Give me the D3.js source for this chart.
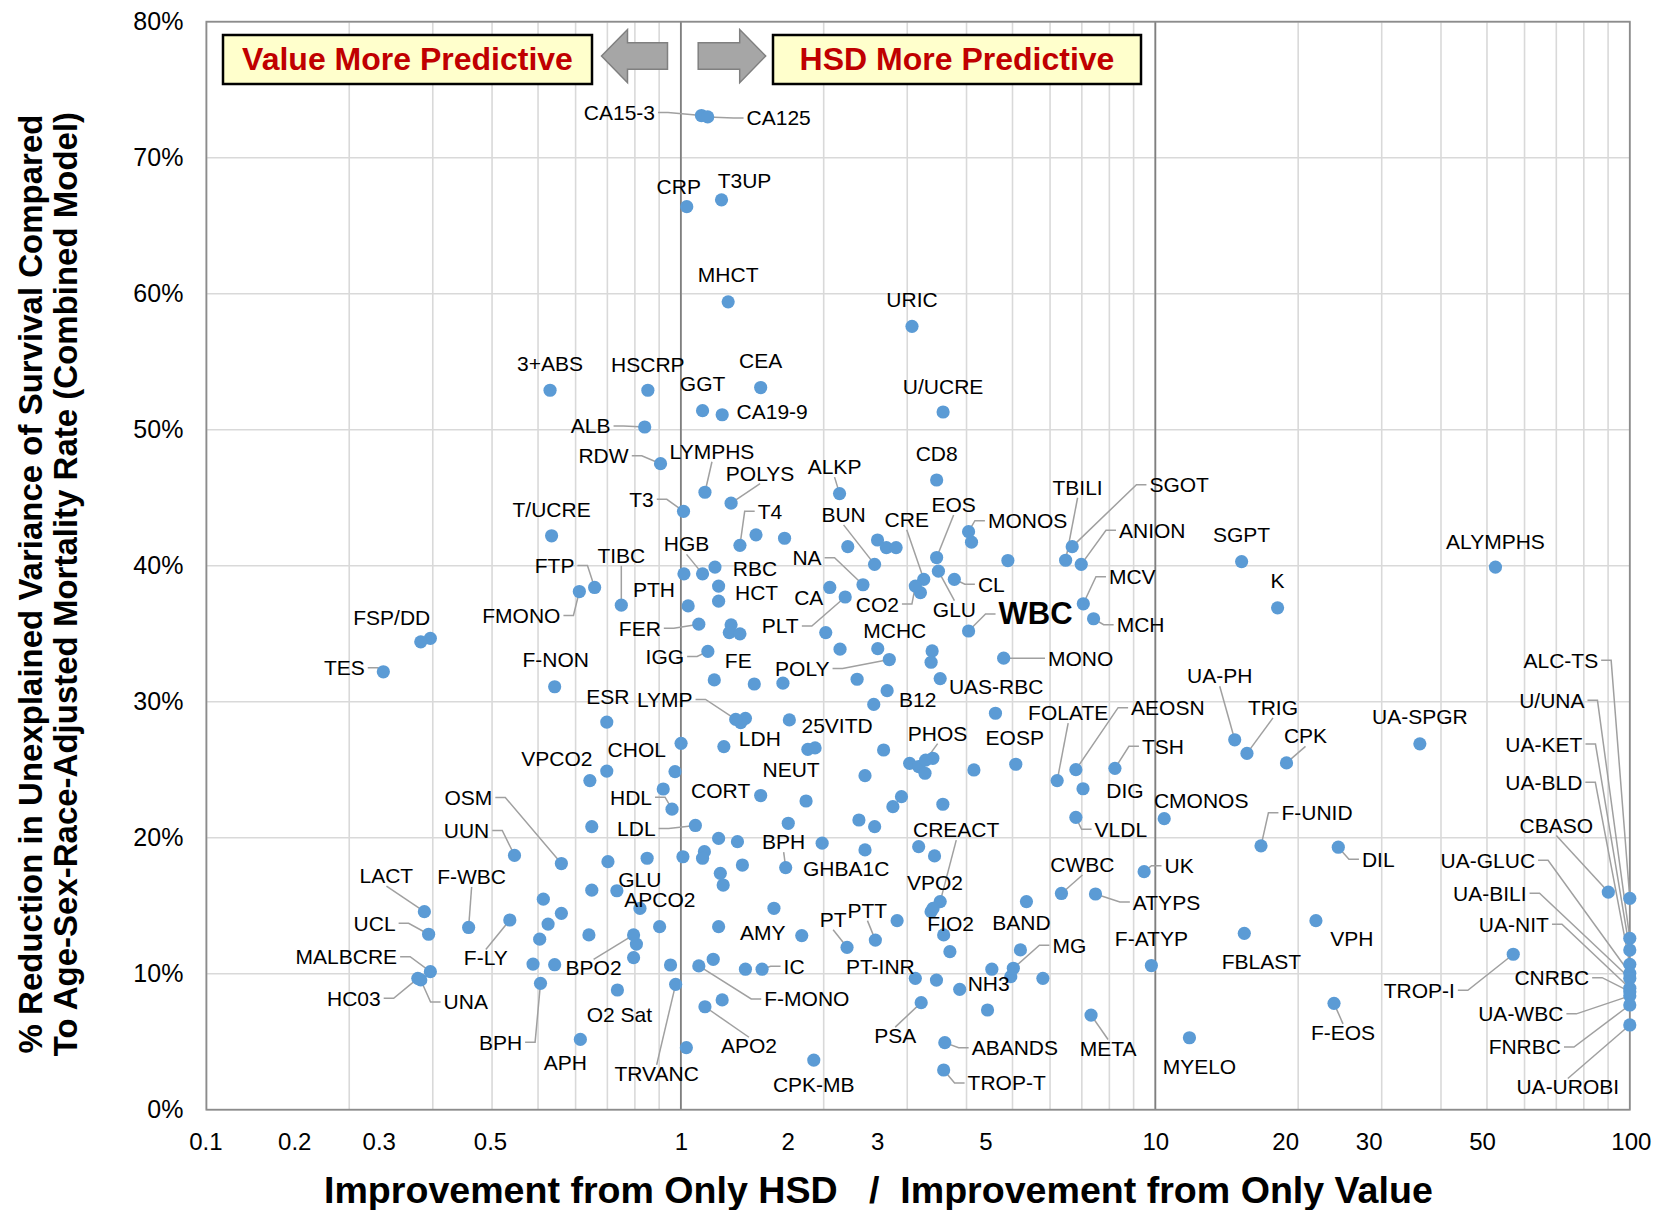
<!DOCTYPE html>
<html><head><meta charset="utf-8">
<script src="https://cdn.jsdelivr.net/npm/d3@7"></script>
<style>
body{margin:0;background:#fff;}
svg text{font-family:"Liberation Sans",Arial,sans-serif;}
</style></head><body>
<svg id="c" width="1654" height="1210"></svg>
<script>
// ---------- data ----------
const xTicks=[0.1,0.2,0.3,0.5,1,2,3,5,10,20,30,50,100];
const yTicks=[0,10,20,30,40,50,60,70,80];

// labelled tests: name, ratio (HSD/Value improvement), % reduction
const labNames=["CA15-3","CA125","CRP","T3UP","MHCT","URIC","3+ABS","HSCRP","CEA","GGT","CA19-9","U/UCRE","ALB","RDW","LYMPHS","POLYS","ALKP","CD8","T3","T/UCRE","T4","BUN","EOS","MONOS","CRE","CO2","GLU","CL","WBC","TBILI","SGOT","ANION","MCV","MCH","SGPT","K","ALYMPHS",
"TES","FSP/DD","FTP","TIBC","FMONO","F-NON","PTH","HGB","RBC","HCT","FER","IGG","FE","CA","NA","PLT","MCHC","POLY","B12","UAS-RBC","MONO","ESR","LYMP","25VITD","LDH","CHOL","VPCO2","HDL","LDL","CORT","NEUT","PHOS","EOSP","FOLATE","AEOSN","DIG","VLDL","TSH","UA-PH","TRIG","CPK","UA-SPGR","CMONOS","F-UNID","DIL","GHBA1C","BPH","CREACT","VPO2",
"OSM","UUN","GLU","APCO2","BPO2","BPH","O2 Sat","TRVANC","APH","F-MONO","AMY","IC","APO2","CPK-MB","PT","PTT","FIO2","PT-INR","NH3","PSA","ABANDS","TROP-T","MG","BAND","CWBC","ATYPS","UK","F-ATYP","FBLAST","VPH","F-EOS","META","MYELO","TROP-I","CBASO",
"LACT","UCL","F-WBC","F-LY","MALBCRE","HC03","UNA",
"ALC-TS","U/UNA","UA-KET","UA-BLD","UA-GLUC","UA-BILI","UA-NIT","CNRBC","UA-WBC","FNRBC","UA-UROBI"];
const labRatio=[1.105,1.139,1.029,1.218,1.258,3.07,0.530,0.852,1.473,1.111,1.222,3.57,0.839,0.906,1.124,1.276,2.16,3.46,1.013,0.534,1.332,2.56,3.46,4.04,3.25,3.12,3.49,3.77,4.04,6.47,6.68,6.98,7.05,7.41,15.2,18.1,52.1,
0.236,0.283,0.658,0.749,0.611,0.542,1.015,1.111,1.180,1.201,1.091,1.140,1.176,2.06,2.42,2.22,2.60,2.75,2.55,3.52,4.79,0.698,1.305,1.918,1.232,0.698,0.643,0.958,1.073,1.473,1.836,3.28,5.08,6.21,6.80,7.04,6.80,8.22,14.7,15.6,18.9,36.1,10.44,16.7,24.3,1.985,1.663,3.52,3.40,
0.560,0.446,0.733,0.820,0.795,0.506,0.735,0.975,0.614,1.091,1.798,1.483,1.124,1.906,2.24,2.57,3.58,3.12,3.87,3.21,3.60,3.58,5.02,5.35,6.34,7.48,9.47,9.81,15.4,21.8,23.8,7.32,11.8,56.8,90.1,
0.288,0.294,0.357,0.436,0.2965,0.279,0.283,
100,100,100,100,100,100,100,100,100,100,100];
const labPct=[73.1,73.0,66.4,66.9,59.4,57.6,52.9,52.9,53.1,51.4,51.1,51.3,50.2,47.5,45.4,44.6,45.3,46.3,44.0,42.2,41.5,40.1,40.6,42.5,39.0,38.5,39.6,39.0,35.2,40.4,41.4,40.1,37.2,36.1,40.3,36.9,39.9,
32.2,34.4,38.4,37.1,38.1,31.1,39.4,39.4,39.9,38.5,35.7,33.7,31.6,38.4,38.6,37.7,33.9,33.1,29.8,31.7,33.2,28.5,28.7,26.6,26.7,24.9,24.2,22.1,20.9,23.1,22.7,25.7,25.4,24.2,25.0,23.6,21.5,25.1,27.2,26.2,25.5,26.9,21.4,19.4,19.3,19.6,17.8,15.3,14.8,
18.1,18.7,16.1,14.8,12.85,9.29,8.80,9.22,5.17,10.57,12.8,10.33,7.57,3.65,11.94,12.47,12.85,9.66,8.85,7.87,4.93,2.92,10.4,15.3,15.9,15.86,17.5,10.6,12.97,13.9,7.82,6.96,5.29,11.43,16.0,
14.56,12.9,13.4,13.95,10.15,9.66,9.54,
15.54,12.6,11.74,10.69,10.03,9.66,8.93,8.68,8.37,7.70,6.23];

// unlabelled tests
const unRatio=[1.440,1.654,2.248,2.597,2.711,2.842,4.098,4.889,3.198,0.2965,1.201,1.036,1.276,1.265,1.332,1.428,1.641,2.020,2.165,2.352,2.721,3.385,3.368,4.603,1.368,1.337,1.693,1.852,1.001,0.972,0.918,0.649,1.684,2.675,2.444,3.035,3.171,3.397,3.270,4.146,2.917,2.798,3.566,2.373,2.561,1.201,1.316,2.444,3.171,3.425,3.368,1.010,1.121,1.111,1.348,1.211,1.228,0.849,0.702,0.649,0.513,0.560,0.525,0.504,0.640,0.488,0.542,0.806,0.795,0.902,0.951,1.027,1.170,1.201,1.571,1.368,1.222,2.856,3.69,3.457,4.429,4.523,4.958,5.196,5.794];
const unPct=[42.27,42.02,41.40,41.89,41.33,41.33,41.73,40.38,38.02,34.66,37.39,37.04,35.65,35.08,34.99,31.30,31.36,35.08,33.86,31.65,30.81,33.73,32.90,29.15,28.78,28.46,28.66,26.50,26.94,24.86,23.58,20.81,21.06,26.45,24.56,25.47,25.23,25.84,24.74,24.98,23.02,22.28,22.46,21.30,20.81,19.95,19.71,19.10,19.34,18.66,14.56,18.60,18.97,18.49,17.99,17.38,16.52,18.49,18.24,16.14,15.48,14.44,13.65,12.54,12.85,10.71,10.66,12.18,11.18,13.46,10.64,4.56,11.06,13.46,14.81,10.33,8.07,13.90,11.62,9.53,7.33,10.33,9.78,11.75,9.66];

// ---------- label layout (px offsets from the point, leader side) ----------
const labLayout=[[-82,-3,"R"],[71,1,"L"],[-8,-20,""],[23,-19,""],[0,-27,""],[0,-27,""],[0,-27,""],[0,-26,""],[0,-27,""],[0,-27,""],[50,-3,""],[0,-26,""],[-54,-1,"R"],[-57,-8,"R"],[7,-41,"B"],[29,-30,"B"],[-5,-27,"B"],[0,-27,""],[-42,-12,"R"],[0,-26,""],[30,-34,"L"],[-31,-50,"B"],[17,-53,"B"],[59,-11,"L"],[-17,-60,"B"],[-38,18,"R"],[16,38,"T"],[37,5,"L"],[67,-17,"L"],[12,-73,"B"],[107,-62,"L"],[71,-34,"L"],[49,-27,"L"],[47,6,"L"],[0,-27,""],[0,-27,""],[0,-26,""],
[-39,-4,"R"],[-29,-24,""],[-40,-22,"R"],[0,-50,"B"],[-58,24,"R"],[1,-27,""],[-30,16,""],[-16,-30,"B"],[40,1,""],[38,6,""],[-59,4,"R"],[-43,5,"R"],[24,-19,""],[-21,10,""],[-56,-27,"R"],[-65,29,"R"],[17,-18,""],[-87,9,"R"],[44,-5,""],[56,8,""],[77,0,"L"],[1,-26,""],[-71,-20,"R"],[22,-22,""],[36,-8,""],[30,-22,""],[-33,-22,""],[-41,-12,"R"],[-59,3,"R"],[-40,-5,""],[-15,-31,""],[12,-27,"B"],[-1,-27,""],[11,-68,"B"],[92,-62,"L"],[42,2,""],[45,12,"L"],[48,-22,"L"],[-15,-64,"B"],[26,-46,"B"],[19,-27,"B"],[0,-27,""],[37,-18,""],[56,-33,"L"],[40,12,"L"],[24,25,""],[-2,-26,"B"],[16,-72,"B"],[2,-26,""],
[-93,-66,"R"],[-48,-25,"R"],[23,-11,""],[20,-9,""],[-40,33,"T"],[-40,59,"R"],[2,24,""],[-19,89,"T"],[-15,23,""],[108,33,"L"],[-39,-3,""],[32,-3,"L"],[44,39,"T"],[0,24,""],[-14,-28,"B"],[-8,-30,"B"],[7,-11,""],[-35,-12,""],[29,-6,""],[-26,33,"T"],[70,5,"L"],[63,13,"L"],[56,-23,"L"],[-5,21,""],[21,-29,"B"],[71,8,"L"],[35,-6,"L"],[0,-27,""],[17,28,""],[36,18,""],[9,29,"T"],[17,33,"T"],[10,29,""],[-94,36,"R"],[-52,-67,"B"],
[-38,-36,"B"],[-54,-11,"R"],[3,-51,"B"],[-24,38,"T"],[-84,-15,"R"],[-64,20,"R"],[45,22,"L"],
[-69,-238,"R"],[-78,-238,"R"],[-86,-206,"R"],[-86,-182,"R"],[-142,-113,"R"],[-140,-85,"R"],[-116,-64,"R"],[-78,-14,"R"],[-109,18,"R"],[-105,42,"R"],[-62,62,"T"]];
// tick labels in the original are shifted left of their gridlines
const xTickNudge={0.1:-1,0.2:-55,0.3:-54,0.5:-48,1:0,2:-36,3:-30,5:-27,10:0,20:-13,30:-13,50:-5,100:1};

// ---------- chart ----------
const svg=d3.select("#c");
const x=d3.scaleLog().domain([0.1,100]).range([206.4,1629.8]);
const y=d3.scaleLinear().domain([0,80]).range([1109.7,21.7]);
const gridC="#d9d9d9";

const grid=svg.append("g");
grid.selectAll("line.gv").data(x.ticks()).join("line").attr("class","gv")
  .attr("x1",d=>x(d)).attr("x2",d=>x(d)).attr("y1",y(0)).attr("y2",y(80))
  .attr("stroke",gridC).attr("stroke-width",1.6);
grid.selectAll("line.gh").data(yTicks).join("line").attr("class","gh")
  .attr("x1",x(0.1)).attr("x2",x(100)).attr("y1",d=>y(d)).attr("y2",d=>y(d))
  .attr("stroke",gridC).attr("stroke-width",1.6);
grid.selectAll("line.gd").data([1,10]).join("line").attr("class","gd")
  .attr("x1",d=>x(d)).attr("x2",d=>x(d)).attr("y1",y(0)).attr("y2",y(80))
  .attr("stroke","#7f7f7f").attr("stroke-width",1.8);
grid.append("rect").attr("x",x(0.1)).attr("y",y(80)).attr("width",x(100)-x(0.1)).attr("height",y(0)-y(80))
  .attr("fill","none").attr("stroke","#8c8c8c").attr("stroke-width",1.8);

// axes
const ax=svg.append("g").attr("transform",`translate(0,${y(0)})`)
  .call(d3.axisBottom(x).tickValues(xTicks).tickFormat(d3.format("~g")).tickSize(0).tickPadding(23));
ax.select(".domain").remove();
ax.selectAll("text").attr("font-size",24).attr("fill","#000").attr("font-family","Liberation Sans, Arial")
  .attr("x",d=>xTickNudge[d]||0);
const ay=svg.append("g").attr("transform",`translate(${x(0.1)},0)`)
  .call(d3.axisLeft(y).tickValues(yTicks).tickFormat(d=>d+"%").tickSize(0).tickPadding(23));
ay.select(".domain").remove();
ay.selectAll("text").attr("font-size",25).attr("fill","#000").attr("font-family","Liberation Sans, Arial");

// titles
svg.append("text").attr("x",324).attr("y",1203).attr("font-size",37.6).attr("font-weight","bold")
  .text("Improvement from Only HSD\u00a0\u00a0\u00a0/\u00a0\u00a0Improvement from Only Value");
const yt=svg.append("g").attr("transform","rotate(-90)");
yt.append("text").attr("x",-584).attr("y",42).attr("text-anchor","middle").attr("font-size",33).attr("font-weight","bold")
  .text("% Reduction in Unexplained Variance of Survival Compared");
yt.append("text").attr("x",-584).attr("y",77).attr("text-anchor","middle").attr("font-size",33).attr("font-weight","bold")
  .text("To Age-Sex-Race-Adjusted Mortality Rate (Combined Model)");

// layers
const leaderG=svg.append("g");
const ptG=svg.append("g");
const labG=svg.append("g");

const ptColor="#5b9bd5", R=6.6;
ptG.selectAll("circle.u").data(unRatio.map((r,i)=>[r,unPct[i]])).join("circle").attr("class","u")
  .attr("cx",d=>x(d[0])).attr("cy",d=>y(d[1])).attr("r",R).attr("fill",ptColor);
ptG.selectAll("circle.l").data(labRatio.map((r,i)=>[r,labPct[i]])).join("circle").attr("class","l")
  .attr("cx",d=>x(d[0])).attr("cy",d=>y(d[1])).attr("r",R).attr("fill",ptColor);

labNames.forEach((n,i)=>{
  const px=x(labRatio[i]), py=y(labPct[i]);
  const [dx,dy,side]=labLayout[i];
  const isW=n==="WBC";
  const t=labG.append("text").attr("x",px+dx).attr("y",py+dy).attr("text-anchor","middle")
    .attr("dominant-baseline","central").attr("font-size",isW?31:21).attr("font-weight",isW?"bold":"normal")
    .attr("fill","#000").text(n);
  if(!side) return;
  const bb=t.node().getBBox();
  const cy=bb.y+bb.height/2, cx=bb.x+bb.width/2;
  let pts;
  if(side==="R"){const sx=bb.x+bb.width+3; pts=[[sx,cy],[sx+10,cy],[px,py]];}
  else if(side==="L"){const sx=bb.x-3; pts=[[sx,cy],[sx-10,cy],[px,py]];}
  else if(side==="T"){pts=[[cx,bb.y+3],[px,py]];}
  else {pts=[[cx,bb.y+bb.height-1],[px,py]];}
  leaderG.append("path").attr("d",d3.line()(pts)).attr("fill","none").attr("stroke","#a0a0a0").attr("stroke-width",1.5);
});

// direction boxes and arrows
const dec=svg.append("g");
[[223,592,"Value More Predictive"],[773,1141,"HSD More Predictive"]].forEach(b=>{
  dec.append("rect").attr("x",b[0]).attr("y",35).attr("width",b[1]-b[0]).attr("height",49)
    .attr("fill","#ffffcc").attr("stroke","#000").attr("stroke-width",2.5);
  dec.append("text").attr("x",(b[0]+b[1])/2).attr("y",70).attr("text-anchor","middle")
    .attr("font-size",32).attr("font-weight","bold").attr("fill","#c00000").text(b[2]);
});
const arrowL=[[601.5,56],[627.5,29.5],[627.5,42.7],[667.5,42.7],[667.5,69.3],[627.5,69.3],[627.5,82.7]];
const arrowR=[[765.7,56],[739.7,29.5],[739.7,42.7],[698.2,42.7],[698.2,69.3],[739.7,69.3],[739.7,82.7]];
[arrowL,arrowR].forEach(a=>dec.append("path").attr("d",d3.line()(a)+"Z")
  .attr("fill","#a6a6a6").attr("stroke","#808080").attr("stroke-width",1.5));
</script>
</body></html>
